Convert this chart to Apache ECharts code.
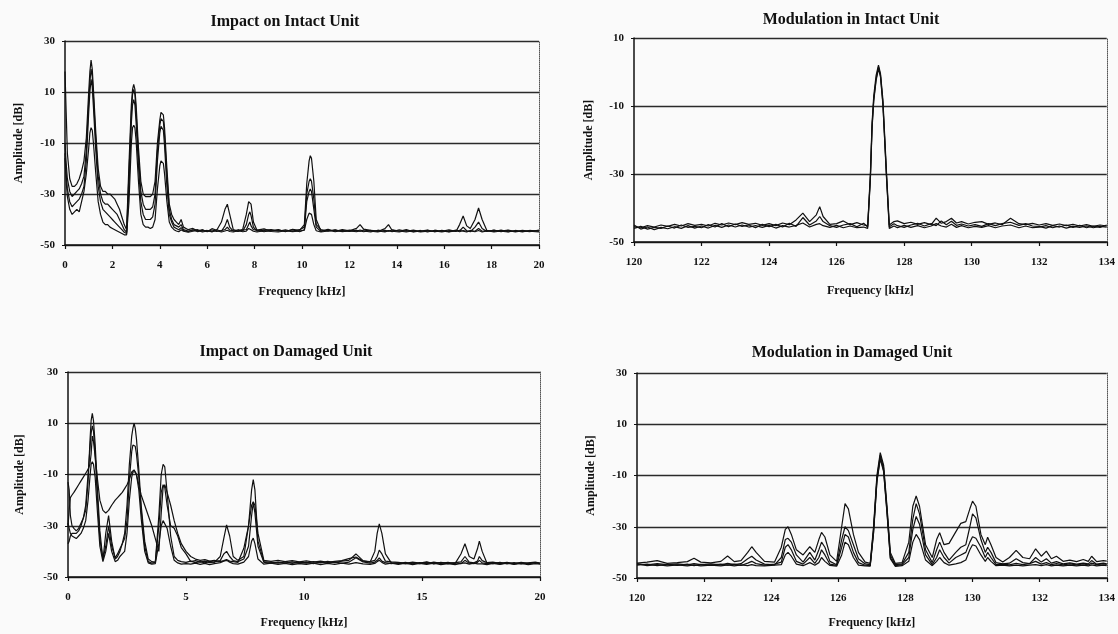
<!DOCTYPE html>
<html>
<head>
    <meta charset="utf-8">
    <title>Impact / Modulation spectra</title>
    <script src="https://cdn.jsdelivr.net/npm/echarts@6/dist/echarts.min.js"></script>
</head>
<body style="margin:0;background:#fafafa">
    <div id="main" style="width:1118px;height:634px;"></div>
    <script type="text/javascript">

        // ---- Impact on Intact Unit (kHz / dB) ----
        var freqImpactIntact = [
            0, 0.05, 0.1, 0.2, 0.3, 0.4, 0.5, 0.6, 0.7, 0.8,
            0.9, 1.0, 1.05, 1.1, 1.15, 1.2, 1.3, 1.4, 1.5, 1.6,
            1.7, 1.8, 1.9, 2.0, 2.1, 2.2, 2.3, 2.4, 2.5, 2.6,
            2.7, 2.8, 2.85, 2.9, 2.95, 3.0, 3.1, 3.2, 3.3, 3.4,
            3.5, 3.6, 3.7, 3.8, 3.9, 4.0, 4.05, 4.1, 4.15, 4.2,
            4.3, 4.4, 4.5, 4.6, 4.7, 4.8, 4.9, 5.0, 5.2, 5.4,
            5.6, 5.8, 6.0, 6.2, 6.4, 6.6, 6.75, 6.85, 6.95, 7.1,
            7.3, 7.5, 7.65, 7.75, 7.8, 7.85, 7.95, 8.1, 8.4, 8.7,
            9.0, 9.3, 9.6, 9.9, 10.1, 10.2, 10.3, 10.35, 10.4, 10.5,
            10.6, 10.8, 11.1, 11.4, 11.7, 12.0, 12.3, 12.45, 12.6, 12.9,
            13.2, 13.5, 13.65, 13.8, 14.1, 14.4, 14.7, 15.0, 15.3, 15.6,
            15.9, 16.2, 16.5, 16.65, 16.8, 16.95, 17.1, 17.3, 17.45, 17.6,
            17.8, 18.1, 18.4, 18.7, 19.0, 19.3, 19.6, 20.0
        ];
        var impactIntact1 = [
            18, 2, -14, -24, -27, -27, -26, -24, -21, -17,
            -8, 10, 18, 22.5, 19, 11, -6, -20, -27, -29,
            -29, -30, -30, -31, -32, -34, -36, -39, -42, -44,
            -18, 5, 11, 13, 11, 5, -12, -25, -30, -31,
            -31, -31, -30, -25, -10, -1, 2, 2.5, 1, -4,
            -20, -34, -38, -40, -41, -42, -40, -43, -44, -43.5,
            -44.5, -44, -44.8, -43.6, -44.2, -41, -36, -34, -38, -44,
            -44.5, -43.8, -38, -33, -32.6, -34, -41, -44.2, -43.7, -44.6,
            -44, -44.8, -43.9, -44.3, -42, -26, -17, -15, -16, -25,
            -40, -44.5, -43.9, -44.6, -44, -44.4, -43.5, -42, -43.8, -44.3,
            -44.7, -43.6, -42, -44.2, -44.6, -44, -44.8, -44.3, -44.9, -44.2,
            -44.6, -44.1, -44.7, -42, -38.6, -42.5, -43.5, -40, -35.5, -40,
            -44.3, -44.7, -44.2, -44.8, -44.4, -44.9, -44.3, -44.6
        ];
        var impactIntact2 = [
            -10, -18, -24, -29, -31, -30, -29, -28, -26, -23,
            -13, 6, 14, 19, 16, 8, -9, -23, -30, -33,
            -34, -34, -35, -36, -37, -38, -40, -42, -44, -45,
            -22, 2, 9, 11, 9, 2, -15, -29, -34, -36,
            -36, -36, -35, -30, -13, -3, -0.5, 0, -1.5, -7,
            -23, -36, -40, -42, -42.5, -43, -42, -44, -44.5, -44.2,
            -44, -44.6, -44.3, -44.9, -44, -44.6, -42.5, -40, -43, -44.6,
            -44, -44.5, -42, -38, -37, -38.5, -43, -44.6, -44.2, -44,
            -44.6, -44.1, -44.7, -44, -43, -30, -25, -24, -25, -32,
            -42, -44, -44.6, -44.1, -44.7, -44.2, -44.6, -44.1, -44.5, -44.9,
            -44.2, -44.7, -44.3, -44.8, -44.1, -44.6, -44.2, -44.7, -44.3, -44.8,
            -44.3, -44.8, -44.2, -44.5, -43, -44.4, -44.8, -43, -41, -43.5,
            -44.7, -44.2, -44.8, -44.3, -44.9, -44.4, -44.8, -44.2
        ];
        var impactIntact3 = [
            -14, -22, -28, -33, -35, -34, -33, -32, -30, -27,
            -17, 2, 10, 15, 12, 4, -13, -27, -33, -36,
            -37, -38, -39, -40, -41, -42, -43, -44, -45, -45.5,
            -27, -2, 5, 7, 5, -2, -19, -33, -38, -40,
            -40, -40, -39, -34, -17, -6, -3.5, -4, -5, -11,
            -27, -38, -41, -43, -43.5, -44, -43.2, -44.3, -44.8, -44,
            -44.8, -44.2, -44.6, -44.1, -44.7, -44.3, -44, -43, -44.2, -44.4,
            -44.7, -44.2, -44, -42, -41, -42.5, -44, -44.2, -44.8, -44.3,
            -44.2, -44.6, -44.1, -44.8, -44, -33, -29, -28, -29, -36,
            -43, -44.7, -44.2, -44.8, -44.3, -44.7, -44.2, -44.6, -44.1, -44.6,
            -44.9, -44.2, -44.6, -44.1, -44.5, -44.9, -44.4, -44.9, -44.6, -44.5,
            -44.9, -44.4, -44.6, -44.2, -44.6, -44.9, -44.3, -44.6, -43.5, -44.6,
            -44.4, -44.9, -44.5, -44.2, -44.7, -44.3, -44.6, -44.9
        ];
        var impactIntact4 = [
            -16, -25, -31, -36, -38, -37, -36, -37, -33, -29,
            -22, -12, -6, -4, -5, -10, -22, -33, -38, -41,
            -42, -42, -43, -43.5, -44, -44.5, -45, -45.5, -46, -46,
            -33, -10, -4, -3, -4, -9, -25, -38, -42, -43,
            -43, -43.5, -43, -40, -28, -19, -17, -17, -18, -22,
            -33, -41, -43, -44, -44.5, -44.8, -44, -44.6, -45, -44.6,
            -44.3, -44.9, -44.5, -44.7, -44.4, -44.9, -44.5, -44.2, -44.7, -44.9,
            -44.4, -44.8, -44.6, -43.5, -43, -44, -44.6, -44.9, -44.4, -44.7,
            -44.9, -44.4, -44.8, -44.5, -44.2, -40, -37.5, -37, -38, -42,
            -44.4, -44.9, -44.5, -44.2, -44.8, -44.5, -44.8, -44.5, -44.8, -44.3,
            -44.5, -44.9, -44.4, -44.6, -44.9, -44.3, -44.9, -44.5, -44.2, -44.8,
            -44.5, -44.9, -44.4, -44.8, -44.3, -44.6, -44.5, -44.8, -44.3, -44.9,
            -44.5, -44.3, -44.6, -44.9, -44.3, -44.7, -44.4, -44.5
        ];

        // ---- Modulation in Intact Unit ----
        var freqModIntact = [
            120.0, 120.2, 120.4, 120.6, 120.8, 121.0, 121.2, 121.4, 121.6, 121.8,
            122.0, 122.2, 122.4, 122.6, 122.8, 123.0, 123.2, 123.4, 123.6, 123.8,
            124.0, 124.2, 124.4, 124.6, 124.8, 125.0, 125.2, 125.4, 125.5, 125.6,
            125.8, 126.0, 126.2, 126.4, 126.6, 126.8, 126.92, 127.0, 127.05, 127.1,
            127.17, 127.24, 127.3, 127.37, 127.42, 127.48, 127.56, 127.7, 127.8, 128.0,
            128.2, 128.4, 128.6, 128.8, 128.95, 129.1, 129.25, 129.4, 129.55, 129.7,
            129.9, 130.1, 130.3, 130.5, 130.7, 130.9, 131.15, 131.4, 131.6, 131.8,
            132.0, 132.2, 132.4, 132.6, 132.8, 133.0, 133.2, 133.4, 133.6, 133.8,
            134.0
        ];
        var modIntact1 = [
            -45.5, -45.8, -45.2, -45.6, -45.0, -45.4, -44.8, -45.3, -44.6, -45.1,
            -44.8, -45.3, -44.5, -45.0, -44.4, -44.9, -44.3, -44.8, -44.5, -45.1,
            -44.6, -45.2, -44.4, -44.9, -43.5, -41.5, -44.0, -42.0, -39.6, -42.5,
            -44.8, -44.6, -43.8, -44.9, -44.3, -45.0, -45.2, -30, -15, -7,
            -1, 2, -0.5, -8, -18, -30, -45.0, -44.0, -43.8, -44.6,
            -44.2, -44.8, -44.3, -44.9, -43.0, -44.5, -44.0, -43.0, -44.4, -44.0,
            -44.7, -44.2, -44.0, -44.8, -44.4, -44.9, -43.0, -44.6, -44.9, -44.5,
            -45.0, -44.6, -45.1, -44.7, -45.2, -44.8, -45.3, -44.9, -45.4, -45.0,
            -45.3
        ];
        var modIntact2 = [
            -46.0, -45.4, -46.2, -45.7, -46.0, -45.3, -45.9, -45.0, -45.7, -45.4,
            -45.8, -44.9, -45.6, -44.6, -45.5, -44.7, -45.4, -45.0, -45.8, -44.8,
            -45.5, -44.8, -45.6, -44.5, -45.4, -42.8, -45.0, -43.8, -42.5, -44.0,
            -45.2, -45.7, -45.0, -44.6, -45.5, -44.5, -45.6, -31, -16, -8,
            -2, 1.5, -1, -9, -19, -31, -45.5, -44.6, -45.2, -45.7,
            -45.0, -44.5, -45.3, -44.6, -45.2, -43.8, -44.9, -43.9, -45.1, -44.7,
            -45.3, -44.9, -45.4, -44.6, -45.2, -44.6, -44.2, -45.1, -44.6, -45.3,
            -45.4, -45.9, -45.2, -45.6, -45.0, -45.7, -45.1, -45.8, -45.3, -45.7,
            -45.0
        ];
        var modIntact3 = [
            -45.0, -46.2, -45.6, -46.4, -45.7, -46.1, -45.5, -46.0, -45.2, -45.9,
            -45.3, -45.9, -45.1, -45.7, -45.0, -45.6, -45.0, -45.6, -45.2, -45.7,
            -45.1, -45.9, -45.2, -45.6, -45.1, -44.4, -45.6, -44.8, -44.6, -45.2,
            -45.7, -45.1, -45.8, -45.3, -45.8, -45.6, -46.0, -31.5, -16.5, -8.5,
            -2.5, 1, -1.5, -9.5, -19.5, -31.5, -46.0, -45.3, -45.8, -45.1,
            -45.7, -45.2, -45.8, -45.3, -44.6, -45.3, -45.6, -44.8, -45.7, -45.2,
            -45.8, -45.4, -45.7, -45.2, -45.8, -45.3, -45.0, -45.8, -45.3, -45.8,
            -45.6, -45.2, -45.8, -45.3, -45.9, -45.4, -45.7, -45.3, -45.8, -45.4,
            -45.6
        ];

        // ---- Impact on Damaged Unit ----
        var freqImpactDamaged = [
            0, 0.05, 0.1, 0.17, 0.25, 0.35, 0.45, 0.55, 0.65, 0.75,
            0.85, 0.93, 0.98, 1.03, 1.08, 1.15, 1.25, 1.35, 1.48, 1.6,
            1.72, 1.85, 2.0, 2.1, 2.2, 2.3, 2.4, 2.5, 2.6, 2.7,
            2.75, 2.8, 2.85, 2.9, 3.0, 3.1, 3.25, 3.4, 3.55, 3.7,
            3.85, 3.95, 4.03, 4.1, 4.2, 4.35, 4.5, 4.65, 4.8, 5.0,
            5.2, 5.4, 5.6, 5.8, 6.0, 6.2, 6.45, 6.6, 6.72, 6.85,
            7.0, 7.2, 7.45, 7.65, 7.78, 7.85, 7.92, 8.05, 8.3, 8.6,
            8.9, 9.2, 9.5, 9.8, 10.1, 10.4, 10.7, 11.0, 11.3, 11.6,
            11.9, 12.2, 12.5, 12.8, 13.0, 13.1, 13.19, 13.3, 13.45, 13.7,
            14.0, 14.3, 14.6, 14.9, 15.2, 15.5, 15.8, 16.1, 16.4, 16.65,
            16.82, 17.0, 17.2, 17.35, 17.43, 17.55, 17.75, 18.0, 18.3, 18.6,
            18.9, 19.2, 19.5, 19.8, 20.0
        ];
        var impactDamaged1 = [
            -13, -16, -26, -30, -31, -32, -31, -29, -27, -24,
            -13, 3, 11, 13.9, 11, 2, -16, -32, -43.4, -33,
            -26, -36, -43, -42, -40, -37, -33, -22, -6, 5,
            8, 10, 8, 4, -8, -22, -36, -43, -44, -44.2,
            -26, -10, -6, -7, -17, -34, -42, -43.5, -44, -44.3,
            -43.8, -44.4, -44, -44.5, -43.9, -44.3, -42, -35, -29.7, -34,
            -42, -43.5, -42, -30, -16, -12, -16, -36, -44, -44.3,
            -44.6, -44.1, -44.7, -44.2, -44.6, -44.0, -44.5, -43.9, -44.4, -43.8,
            -43.5, -41, -43.6, -44.2, -40, -33, -29.3, -33, -41, -44.5,
            -44.8, -44.3, -44.9, -44.4, -44.8, -44.2, -44.7, -44.3, -44.8, -41,
            -37, -42, -43, -39, -36, -40, -44.5, -44.8, -44.3, -44.9,
            -44.4, -44.9, -44.5, -44.2, -44.6
        ];
        var impactDamaged2 = [
            -30, -24, -19, -18, -17, -15.5, -14, -12.5, -11, -9.5,
            -8, -6, -2, 5, 3, -3, -12, -20, -24, -25,
            -24, -22, -20, -19, -18, -17, -15.5, -14, -12, -9,
            -8.5, -8.2, -9, -10, -14, -18, -22, -26, -30, -35,
            -40, -25, -15, -14, -17, -22, -28, -33, -37, -40,
            -42, -43, -43.5, -43.2, -43.8, -43.5, -44, -43.6, -43.2, -43.8,
            -44, -44.3, -38.8, -30, -22, -20.6, -22, -33, -43.5, -43.9,
            -43.5, -44, -43.6, -44.1, -43.7, -44.2, -43.8, -44.3, -43.9, -43.6,
            -42.8, -42.2, -43.8, -44, -43.5, -42, -39.5, -41, -43.8, -44.1,
            -44.3, -44.7, -44.2, -44.6, -44.1, -44.8, -44.3, -44.7, -44.4, -44.1,
            -42, -44.2, -44.5, -43.8, -42, -43.6, -44.4, -44.2, -44.7, -44.3,
            -44.8, -44.3, -44.7, -44.4, -44.8
        ];
        var impactDamaged3 = [
            -37, -36, -34, -33, -33.5, -33, -32, -30, -27, -22,
            -10, 0, 6, 9, 7, -2, -20, -35, -43, -38,
            -30, -38, -42.5, -41, -39, -37, -35, -28, -12, -1,
            1.5, 2, 1, -2, -11, -24, -38, -44, -44.6, -44.3,
            -30, -17, -14, -15, -22, -30, -31, -34, -38.5, -41,
            -44, -43.6, -44.2, -43.8, -44.4, -44.1, -43.6, -41, -40, -42,
            -43.6, -44, -43, -38, -26, -21, -25, -38, -44.3, -44.7,
            -44.2, -44.6, -44.1, -44.7, -44.3, -44.8, -44.2, -44.6, -44.1, -44.7,
            -44.2, -42.5, -44.1, -44.6, -44.2, -43.5, -42.5, -43.8, -44.4, -44.8,
            -44.4, -44.9, -44.5, -44.8, -44.3, -44.9, -44.4, -44.8, -44.5, -44.8,
            -43.5, -44.6, -44.8, -44.3, -43.5, -44.5, -44.8, -44.4, -44.9, -44.5,
            -44.9, -44.5, -44.8, -44.4, -44.7
        ];
        var impactDamaged4 = [
            -29, -31, -33, -34, -34, -35, -34, -33, -31, -28,
            -20, -11, -6, -5, -6, -11, -25, -38, -44, -40,
            -33, -40, -44, -43.5, -42, -41, -40, -33, -20, -11,
            -9, -8.5, -9, -10, -16, -27, -40, -44.5, -45, -44.8,
            -37, -30, -28, -28, -31, -38, -43.5, -44.5, -45, -44.8,
            -45, -44.6, -45.1, -44.7, -45.2, -44.8, -44.4, -43.8, -43.5, -44.2,
            -44.8, -45, -44.2, -42, -36, -34.8, -37, -43, -45, -44.6,
            -45.1, -44.7, -45.2, -44.8, -45.1, -44.6, -45.2, -44.7, -45.1, -44.6,
            -45, -44.4, -44.9, -45.1, -44.7, -44, -43.5, -44.3, -45, -44.6,
            -45.1, -44.6, -45.2, -44.7, -45.1, -44.6, -45.2, -44.8, -45.2, -44.7,
            -44.5, -45, -44.6, -44.9, -44.4, -44.9, -45.2, -44.7, -45.1, -44.6,
            -45.1, -44.7, -45.2, -44.8, -45
        ];

        // ---- Modulation in Damaged Unit ----
        var freqModDamaged = [
            120.0, 120.3, 120.6, 120.9, 121.2, 121.5, 121.7, 121.9, 122.2, 122.5,
            122.7, 122.9, 123.1, 123.3, 123.42, 123.55, 123.8, 124.1, 124.3, 124.42,
            124.5, 124.6, 124.75, 124.95, 125.15, 125.3, 125.42, 125.5, 125.6, 125.75,
            125.95, 126.1, 126.2, 126.3, 126.45, 126.6, 126.8, 126.95, 127.05, 127.15,
            127.25, 127.35, 127.45, 127.55, 127.7, 127.9, 128.1, 128.22, 128.32, 128.42,
            128.6, 128.8, 128.93, 129.02, 129.15, 129.3, 129.5, 129.65, 129.8, 129.92,
            130.0, 130.1, 130.25, 130.38, 130.45, 130.55, 130.7, 130.9, 131.1, 131.3,
            131.5, 131.7, 131.88, 132.05, 132.2, 132.35, 132.5, 132.7, 132.9, 133.1,
            133.3, 133.45, 133.55, 133.7, 133.9, 134.0
        ];
        var modDamaged1 = [
            -44.2, -43.8, -43.2, -44.3, -44.0, -43.6, -42.3, -43.8, -44.1, -43.5,
            -41.4, -43.6, -43.2, -40, -37.8, -40, -43.5, -43.8, -38, -31,
            -30, -33, -39, -41, -37.8, -40, -35, -32.2, -34, -41,
            -43.5, -30, -21, -23, -33, -40, -43.8, -44.3, -30, -10,
            -1.1, -6, -22, -40, -44.3, -44, -36, -22, -18, -22,
            -37, -42, -35, -32.3, -37, -36.5, -32, -28.7, -28, -23,
            -20, -22, -33, -37, -34.1, -37, -42, -43.8, -42, -39.2,
            -42, -42.5, -38.6, -41.5, -39.5, -42.5, -41.5, -43.5, -43, -43.6,
            -42.8, -43.5, -41.5, -43.6, -43.2, -43.4
        ];
        var modDamaged2 = [
            -44.6, -44.9, -44.4, -44.8, -44.5, -44.9, -44.4, -44.8, -44.5, -44.9,
            -44.3, -44.8, -44.4, -42.5, -41.5, -43, -44.6, -44.9, -42, -35,
            -34.5, -36, -41, -43.8, -40, -43, -39, -36, -38, -43.5,
            -44.8, -35, -30, -31.5, -37, -42.5, -44.5, -44.8, -31, -11,
            -2, -7, -23, -41, -44.8, -44.5, -40, -27, -21, -25,
            -39, -44, -39, -36, -40, -43, -40, -38, -37, -30,
            -25, -26.5, -35, -40, -38, -40, -44, -44.5, -44.2, -42.5,
            -44, -44.4, -42, -43.8, -42.5, -44.2, -43.6, -44.5, -44.1, -44.6,
            -44.2, -44.5, -43.2, -44.6, -44.2, -44.5
        ];
        var modDamaged3 = [
            -45.0, -44.6, -45.2, -44.7, -45.1, -44.6, -45.2, -44.7, -45.0, -44.6,
            -45.0, -44.6, -45.1, -44.2, -43.5, -44.4, -45.0, -44.6, -43.8, -38,
            -37, -39, -43.5, -44.6, -42, -44.3, -42, -39, -41, -44.6,
            -45.1, -38, -33, -34, -40, -44, -45, -45.2, -32, -12,
            -3, -8, -24, -42, -45.2, -44.8, -42, -31, -26, -29,
            -41, -44.8, -42, -39, -42, -44.2, -42, -41, -40, -36,
            -33.9, -34.5, -38, -42, -40, -42, -44.8, -44.6, -44.9, -44.3,
            -44.8, -44.4, -43.5, -44.6, -44, -44.8, -44.4, -44.9, -44.5, -44.9,
            -44.5, -44.9, -44.2, -44.8, -44.5, -44.7
        ];
        var modDamaged4 = [
            -44.4, -45.2, -44.8, -45.3, -44.9, -45.3, -44.9, -45.3, -45.0, -45.3,
            -44.9, -45.3, -44.9, -45.2, -44.8, -45.2, -45.3, -45.0, -44.8, -41,
            -40, -41.5, -44.6, -45.2, -44, -45, -44, -42, -43.5, -45.1,
            -45.4, -41, -36, -37, -42, -45, -45.3, -45.4, -32.5, -12.5,
            -3.5, -8.5, -24.5, -42.5, -45.5, -45.2, -43.5, -36, -33, -35,
            -43, -45.2, -43.5, -42, -44, -45, -44.5, -44, -43, -39,
            -37, -37.5, -41, -43.5, -42, -43.5, -45.2, -45, -45.3, -45,
            -45.3, -45, -44.8, -45.2, -44.8, -45.3, -45, -45.3, -45, -45.3,
            -45, -45.3, -44.9, -45.3, -45, -45.2
        ];

        var panelTitles = ['Impact on Intact Unit', 'Modulation in Intact Unit',
                           'Impact on Damaged Unit', 'Modulation in Damaged Unit'];

        var ink = '#111';
        var serif = '"Liberation Serif", "DejaVu Serif", serif';

        function pairs(xs, ys) {
            return xs.map(function (x, i) { return [x, ys[i]]; });
        }

        // one panel = grid + axes + its spectra
        var panels = [
            { grid: { left: 65, top: 41, width: 474, height: 204 },
              x: { min: 0, max: 20, interval: 2 }, y: { min: -50, max: 30 },
              title: { left: 280, top: 9 }, yGap: 40, xGap: 41,
              freq: freqImpactIntact, lines: [impactIntact1, impactIntact2, impactIntact3, impactIntact4] },
            { grid: { left: 634, top: 38, width: 474, height: 204 },
              x: { min: 120, max: 134, interval: 2 }, y: { min: -50, max: 10 },
              title: { left: 846, top: 7 }, yGap: 39, xGap: 43,
              freq: freqModIntact, lines: [modIntact1, modIntact2, modIntact3] },
            { grid: { left: 68, top: 372, width: 472, height: 205 },
              x: { min: 0, max: 20, interval: 5 }, y: { min: -50, max: 30 },
              title: { left: 281, top: 339 }, yGap: 42, xGap: 40,
              freq: freqImpactDamaged, lines: [impactDamaged1, impactDamaged2, impactDamaged3, impactDamaged4] },
            { grid: { left: 637, top: 373, width: 471, height: 205 },
              x: { min: 120, max: 134, interval: 2 }, y: { min: -50, max: 30 },
              title: { left: 847, top: 340 }, yGap: 40, xGap: 39,
              freq: freqModDamaged, lines: [modDamaged1, modDamaged2, modDamaged3, modDamaged4] }
        ];

        var option = {
            backgroundColor: '#fafafa',
            animation: false,
            title: [], grid: [], xAxis: [], yAxis: [], series: []
        };

        var labelFont = { color: ink, fontFamily: serif, fontWeight: 'bold', fontSize: 11 };

        panels.forEach(function (p, i) {
            option.title.push({
                text: panelTitles[i], left: p.title.left, top: p.title.top, textAlign: 'center',
                textStyle: { color: ink, fontFamily: serif, fontWeight: 'bold', fontSize: 16 }
            });
            option.grid.push(p.grid);
            option.xAxis.push({
                type: 'value', gridIndex: i, min: p.x.min, max: p.x.max, interval: p.x.interval,
                name: 'Frequency [kHz]', nameLocation: 'middle', nameGap: p.xGap,
                nameTextStyle: { color: ink, fontFamily: serif, fontWeight: 'bold', fontSize: 12 },
                axisLine: { onZero: false, lineStyle: { color: ink, width: 1.5 } },
                axisTick: { length: 4, lineStyle: { color: ink, width: 1.2 } },
                axisLabel: Object.assign({ margin: 15 }, labelFont),
                splitLine: { show: false }
            });
            option.yAxis.push({
                type: 'value', gridIndex: i, min: p.y.min, max: p.y.max, interval: 20,
                name: 'Amplitude [dB]', nameLocation: 'middle', nameGap: p.yGap,
                nameTextStyle: { color: ink, fontFamily: serif, fontWeight: 'bold', fontSize: 12 },
                axisLine: { show: true, lineStyle: { color: ink, width: 1.5 } },
                axisTick: { show: true, length: 3, lineStyle: { color: ink } },
                axisLabel: Object.assign({ margin: 10 }, labelFont),
                splitLine: { show: true, lineStyle: { color: '#2a2a2a', width: 1.3 } }
            });
            // dotted frame on the right side
            option.yAxis.push({
                type: 'value', gridIndex: i, position: 'right', min: p.y.min, max: p.y.max,
                axisLine: { show: true, lineStyle: { color: '#555', width: 1, type: 'dotted' } },
                axisTick: { show: false }, axisLabel: { show: false }, splitLine: { show: false }
            });
            p.lines.forEach(function (ys) {
                option.series.push({
                    type: 'line', xAxisIndex: i, yAxisIndex: i * 2,
                    data: pairs(p.freq, ys), showSymbol: false, symbol: 'none',
                    lineStyle: { color: ink, width: 1.2 }, z: 3
                });
            });
        });

        var myChart = echarts.init(document.getElementById('main'));
        myChart.setOption(option);
    </script>
</body>
</html>
